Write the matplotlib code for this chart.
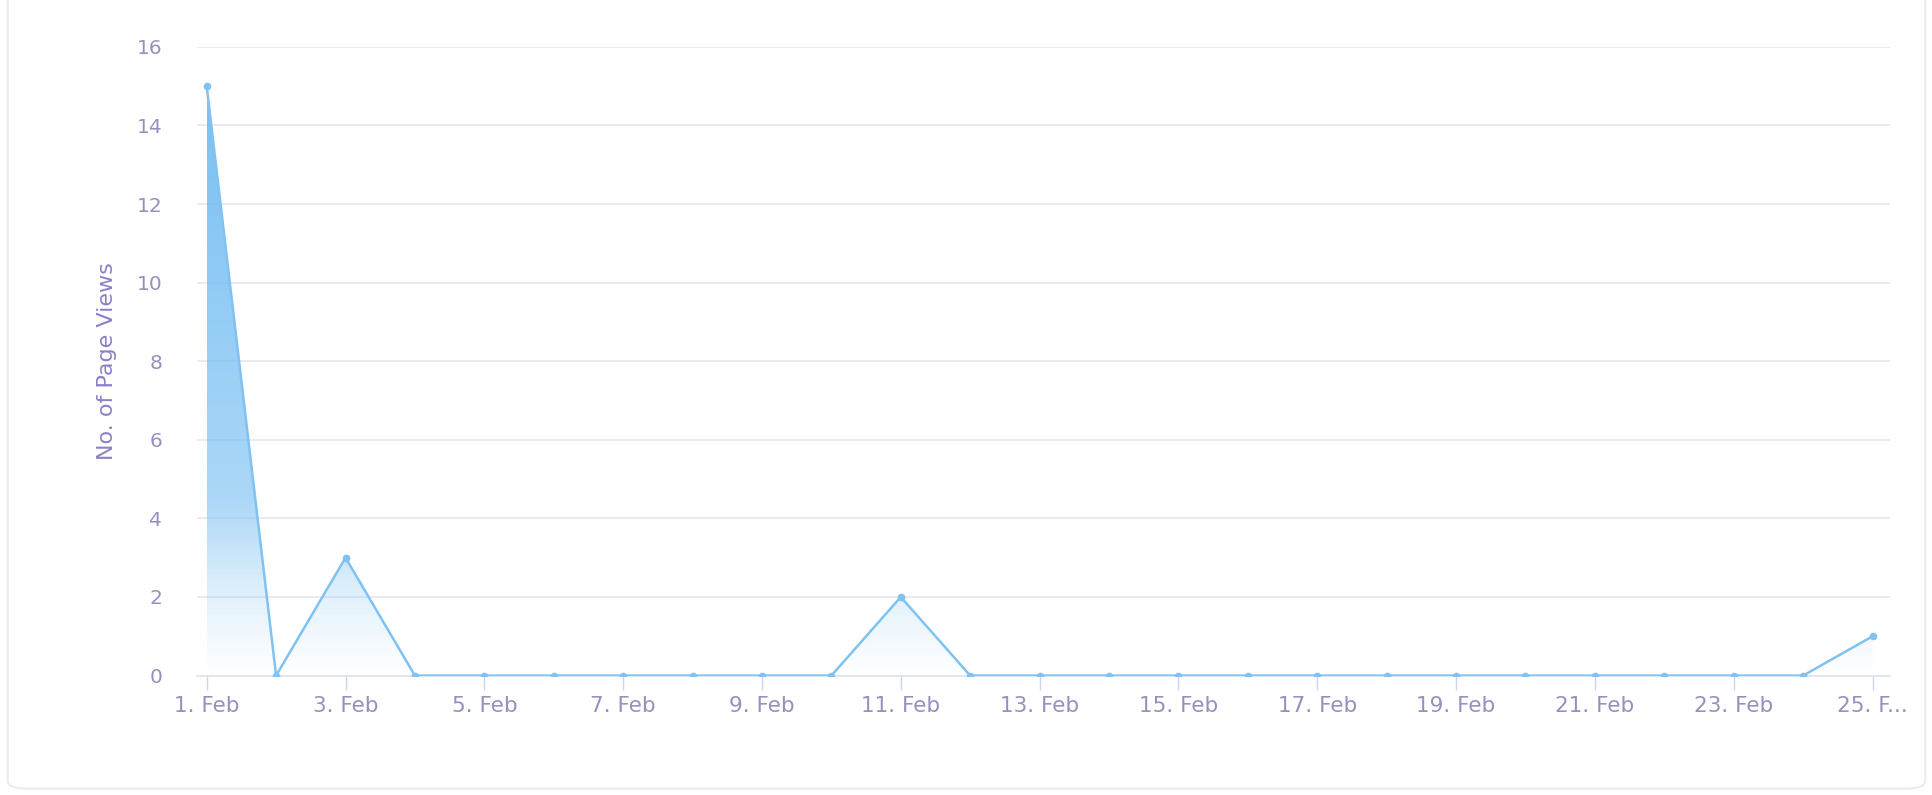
import numpy as np
import matplotlib
matplotlib.use("Agg")
import matplotlib.pyplot as plt
from matplotlib.patches import FancyBboxPatch
from matplotlib.colors import LinearSegmentedColormap

# ---------------------------------------------------------------- data
days = list(range(1, 26))
page_views = [15, 0, 3, 0, 0, 0, 0, 0, 0, 0, 2, 0, 0, 0, 0, 0, 0, 0, 0, 0, 0, 0, 0, 0, 1]
tick_days = list(range(1, 26, 2))
tick_labels = ["1. Feb", "3. Feb", "5. Feb", "7. Feb", "9. Feb", "11. Feb", "13. Feb",
               "15. Feb", "17. Feb", "19. Feb", "21. Feb", "23. Feb", "25. F..."]
y_ticks = list(range(0, 17, 2))

LINE = "#80c2f2"
TEXT = "#9890bc"
GRID = "#e6e6ee"

fig = plt.figure(figsize=(19.33, 7.95), dpi=100)
ax = fig.add_axes([0.1019, 0.1502, 0.8758, 0.7909])

# gradient area under the line
fill = ax.fill_between(days, page_views, 0, facecolor="none", edgecolor="none")
blue = (0.45, 0.74, 0.95)
cmap = LinearSegmentedColormap.from_list("fade", [
    (0.0, blue + (0.0,)),
    (0.12, blue + (0.18,)),
    (0.3, blue + (0.6,)),
    (1.0, blue + (0.95,)),
])
grad = np.linspace(0, 1, 256).reshape(-1, 1)
im = ax.imshow(grad, cmap=cmap, aspect="auto", origin="lower",
               extent=[days[0], days[-1], 0, max(page_views)], zorder=2)
im.set_clip_path(fill.get_paths()[0], transform=ax.transData)

ax.plot(days, page_views, color=LINE, lw=1.8, marker="o", ms=4.5,
        mfc=LINE, mec=LINE, zorder=4)

ax.set_xlim(days[0] - 0.14, days[-1] + 0.25)
ax.set_ylim(0, 16)
ax.set_yticks(y_ticks)
ax.set_xticks(tick_days)
ax.set_xticklabels(tick_labels)

ax.grid(axis="y", color=GRID, lw=1.2)
ax.set_axisbelow(True)
for side in ("top", "right", "left"):
    ax.spines[side].set_visible(False)
ax.spines["bottom"].set_color("#dde3f0")
ax.spines["bottom"].set_linewidth(1.2)

ax.tick_params(axis="y", length=0, pad=25, labelsize=14.5, labelcolor=TEXT)
ax.tick_params(axis="x", length=10, width=1, color="#ccd6eb", pad=5,
               labelsize=15.5, labelcolor=TEXT)
ax.set_ylabel("No. of Page Views", fontsize=16, color="#8c80c8", labelpad=14)

# faint chart border
fig.patches.append(FancyBboxPatch((0.004, 0.008), 0.992, 1.2,
                                  boxstyle="round,pad=0,rounding_size=0.01",
                                  transform=fig.transFigure, fill=False,
                                  edgecolor="#ececf0", lw=1.5))

fig.savefig("out.png", dpi=100)
